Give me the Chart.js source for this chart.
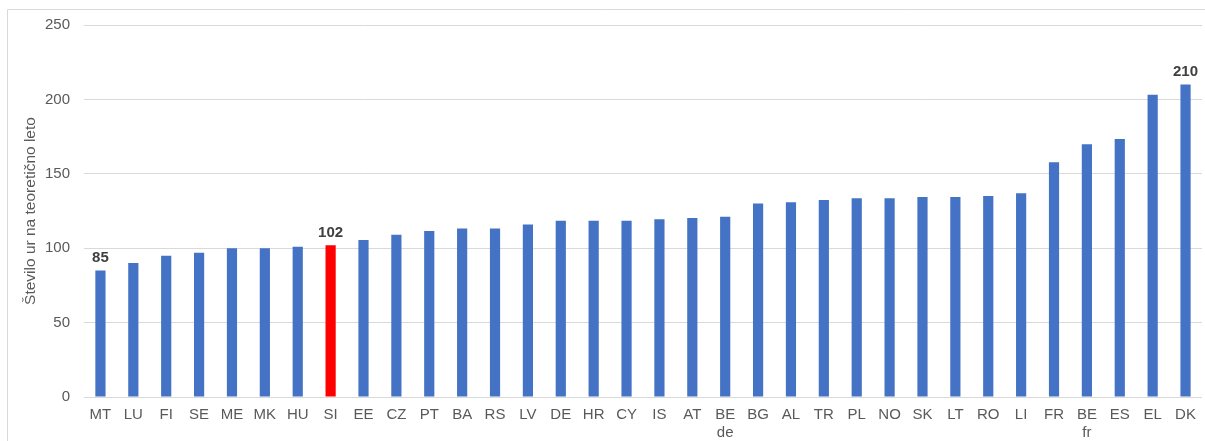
<!DOCTYPE html>
<html>
<head>
<meta charset="utf-8">
<script src="https://cdn.jsdelivr.net/npm/chart.js@4/dist/chart.umd.min.js"></script>
<style>
  html, body { margin: 0; padding: 0; background: #ffffff; }
  canvas { display: block; }
</style>
</head>
<body>
<canvas id="c" width="1205" height="441" style="width:1205px;height:441px"></canvas>
<script>
const categories = ['MT','LU','FI','SE','ME','MK','HU','SI','EE','CZ','PT','BA','RS','LV','DE','HR','CY','IS','AT',['BE','de'],'BG','AL','TR','PL','NO','SK','LT','RO','LI','FR',['BE','fr'],'ES','EL','DK'];
const hours = [85,90,95,97,100,100,101,102,105.5,109,111.5,113.3,113.3,116,118.5,118.5,118.5,119.4,120.3,121.2,130,130.8,132.4,133.5,133.5,134.4,134.4,135,136.9,157.7,169.8,173.4,203.2,210];
const highlightCategory = 'SI';
const labeledCategories = ['MT','SI','DK'];
const yTicks = [0,50,100,150,200,250];
const yTitle = 'Število ur na teoretično leto';

const BLUE = '#4472C4', RED = '#FF0000';
const FONT = '"Liberation Sans", Arial, sans-serif';
const catKey = c => Array.isArray(c) ? c.join(' ') : c;
const barColors = categories.map(c => catKey(c) === highlightCategory ? RED : BLUE);

const frame = {
  id: 'frame',
  beforeDraw(chart) {
    const ctx = chart.ctx;
    ctx.save();
    ctx.fillStyle = '#ffffff';
    ctx.fillRect(0, 0, chart.width, chart.height);
    ctx.strokeStyle = '#d9d9d9';
    ctx.lineWidth = 1;
    ctx.beginPath();
    ctx.moveTo(7.5, chart.height);
    ctx.lineTo(7.5, 9.5);
    ctx.lineTo(chart.width, 9.5);
    ctx.stroke();
    ctx.restore();
  }
};

const valueLabels = {
  id: 'valueLabels',
  afterDatasetsDraw(chart) {
    const ctx = chart.ctx;
    const meta = chart.getDatasetMeta(0);
    ctx.save();
    ctx.font = 'bold 15px ' + FONT;
    ctx.fillStyle = '#404040';
    ctx.textAlign = 'center';
    ctx.textBaseline = 'bottom';
    categories.forEach((c, i) => {
      if (labeledCategories.includes(catKey(c))) {
        const el = meta.data[i];
        ctx.fillText(String(Math.round(hours[i])), el.x, el.y - 5);
      }
    });
    ctx.restore();
  }
};

new Chart(document.getElementById('c'), {
  type: 'bar',
  data: {
    labels: categories,
    datasets: [{
      data: hours,
      backgroundColor: barColors,
      borderWidth: 0,
      categoryPercentage: 1,
      barPercentage: 0.31
    }]
  },
  options: {
    responsive: false,
    devicePixelRatio: 1,
    animation: false,
    layout: { padding: { top: 25, right: 3, bottom: 0, left: 0 } },
    plugins: { legend: { display: false }, tooltip: { enabled: false }, title: { display: false } },
    scales: {
      x: {
        offset: true,
        grid: { display: false, drawTicks: false },
        border: { display: false },
        ticks: {
          autoSkip: false, maxRotation: 0, minRotation: 0, padding: 9,
          color: '#595959',
          font: { family: FONT, size: 15, lineHeight: 1.2 }
        },
        afterFit(scale) { scale.height = 44; }
      },
      y: {
        min: 0, max: 250,
        afterBuildTicks(scale) { scale.ticks = yTicks.map(v => ({ value: v })); },
        grid: { color: '#d9d9d9', lineWidth: 1, drawTicks: false },
        border: { display: false },
        ticks: {
          padding: 14,
          color: '#595959',
          font: { family: FONT, size: 15 }
        },
        title: {
          display: true,
          text: yTitle,
          color: '#595959',
          padding: { top: 21, bottom: 0 },
          font: { family: FONT, size: 15.5, lineHeight: 1.2 }
        },
        afterFit(scale) { scale.width = 84; }
      }
    }
  },
  plugins: [frame, valueLabels]
});
</script>
</body>
</html>
